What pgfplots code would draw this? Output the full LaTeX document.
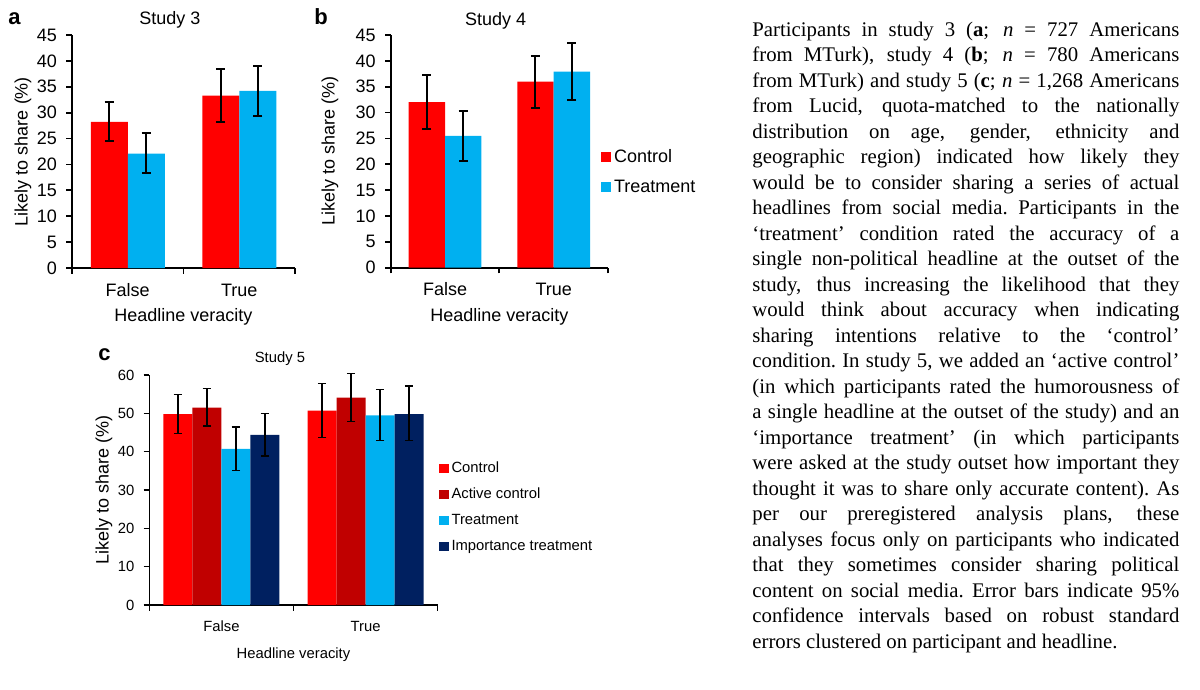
\documentclass[border=0pt]{standalone}
\usepackage{fontspec}
\setmainfont{Liberation Serif}
\newfontfamily\arial{Liberation Sans}
\usepackage{pgfplots}
\pgfplotsset{compat=1.18}
\definecolor{cred}{RGB}{255,0,0}
\definecolor{cdred}{RGB}{192,0,0}
\definecolor{cblue}{RGB}{0,176,240}
\definecolor{cnavy}{RGB}{0,32,96}
\pgfplotsset{
  base/.style={
    scale only axis, clip=false, anchor=south west,
    axis x line*=bottom, axis y line*=left,
    xmin=-0.5, xmax=1.5, ymin=0,
    xtick={-0.5,0.5,1.5}, xticklabels={{},{},{}},
    extra x ticks={0,1}, extra x tick labels={False,True},
    extra x tick style={major tick length=0pt},
    tick align=outside, major tick length=2.8pt,
    tick style={black},
    /pgf/number format/assume math mode=true,
    ybar=0pt,
    every axis plot post/.append style={legend image code/.code={\fill[##1] (0pt,-2.4pt) rectangle (4.8pt,2.4pt);}},
    xticklabel style={anchor=base, yshift=-14pt},
    yticklabel style={anchor=east, inner sep=0pt, xshift=-4.5pt},
    xlabel={Headline veracity},
    ylabel={Likely to share (\%)},
    xlabel style={at={(axis description cs:0.5,0)}, anchor=base, yshift=-26.8pt},
    ylabel style={anchor=center},
    every axis title shift=0pt,
    title style={anchor=base},
    legend cell align=left,
    legend style={draw=none, fill=none, inner sep=0pt, column sep=0pt, anchor=west},
    error bars/y dir=both, error bars/y explicit,
    error bars/error bar style={black},
  },
  big/.style={
    base,
    font=\arial\fontsize{9}{10.8}\selectfont,
    axis line style={line width=0.9pt},
    tick style={line width=0.9pt},
    ymax=45, ytick distance=5,
    error bars/error bar style={line width=1pt},
    error bars/error mark options={rotate=90, mark size=2.25pt, line width=1pt, black},
    legend style={row sep=5pt, nodes={inner ysep=1pt, inner xsep=1.5pt, text height=6.5pt, text depth=1.5pt}},
  },
}
\newcommand\capline[1]{\makebox[213.5pt][s]{#1}\\}
\begin{document}
\begin{tikzpicture}
\path[use as bounding box] (0,0) rectangle (600pt,-345pt);

% Panel a
\begin{axis}[big, at={(36pt,-134pt)}, width=111.5pt, height=116.5pt, bar width=18.5pt,
  title={Study 3}, title style={at={(axis description cs:0.439,1)}, yshift=5.5pt},
  ylabel style={at={(axis description cs:-0.2197,0.5)}}]
\addplot[fill=cred, draw=none] coordinates {(0,28.2) += (0,3.8) -= (0,3.6) (1,33.3) += (0,5.1) -= (0,5.1)};
\addplot[fill=cblue, draw=none] coordinates {(0,22.1) += (0,3.9) -= (0,3.8) (1,34.2) += (0,4.9) -= (0,4.9)};
\end{axis}

% Panel b
\begin{axis}[big, at={(195.35pt,-133.85pt)}, width=108.65pt, height=116.35pt, bar width=18.2pt,
  title={Study 4}, title style={at={(axis description cs:0.483,1)}, yshift=5pt},
  ylabel style={at={(axis description cs:-0.2793,0.5)}},
  legend style={at={(axis description cs:0.9678,0.411)}}]
\addplot[fill=cred, draw=none] coordinates {(0,32.0) += (0,5.3) -= (0,5.2) (1,36.0) += (0,4.9) -= (0,5.1)};
\addplot[fill=cblue, draw=none] coordinates {(0,25.5) += (0,4.8) -= (0,4.8) (1,37.9) += (0,5.6) -= (0,5.5)};
\legend{Control,Treatment}
\end{axis}

% Panel c
\begin{axis}[base, at={(74.65pt,-302.5pt)}, width=144.2pt, height=115pt, bar width=14.5pt,
  font=\arial\fontsize{7.4}{8.9}\selectfont,
  axis line style={line width=0.75pt}, tick style={line width=0.75pt},
  ymax=60, ytick distance=10,
  xticklabel style={yshift=1pt},
  error bars/error bar style={line width=0.65pt},
  error bars/error mark options={rotate=90, mark size=2.1pt, line width=0.65pt, black},
  title={Study 5}, title style={at={(axis description cs:0.453,1)}, yshift=6.2pt},
  ylabel style={at={(axis description cs:-0.1571,0.5)}, font=\arial\fontsize{9}{10.8}\selectfont},
  legend style={at={(axis description cs:1.0035,0.424)}, row sep=4pt, nodes={inner ysep=1pt, inner xsep=1.4pt, text height=5.5pt, text depth=1.5pt}}]
\addplot[fill=cred, draw=none] coordinates {(0,49.8) += (0,5.2) -= (0,5.0) (1,50.7) += (0,7.1) -= (0,7.0)};
\addplot[fill=cdred, draw=none] coordinates {(0,51.5) += (0,4.9) -= (0,4.8) (1,54.1) += (0,6.3) -= (0,6.3)};
\addplot[fill=cblue, draw=none] coordinates {(0,40.7) += (0,5.7) -= (0,5.7) (1,49.5) += (0,6.7) -= (0,6.5)};
\addplot[fill=cnavy, draw=none] coordinates {(0,44.4) += (0,5.6) -= (0,5.5) (1,49.8) += (0,7.3) -= (0,6.9)};
\legend{Control,Active control,Treatment,Importance treatment}
\end{axis}

% panel letters
\node[anchor=base west, inner sep=0pt, font=\arial\bfseries\fontsize{11}{13}\selectfont] at (4pt,-12.5pt) {a};
\node[anchor=base west, inner sep=0pt, font=\arial\bfseries\fontsize{11}{13}\selectfont] at (157pt,-12.5pt) {b};
\node[anchor=base west, inner sep=0pt, font=\arial\bfseries\fontsize{11}{13}\selectfont] at (49pt,-180.3pt) {c};

% caption text
\node[anchor=north west, inner sep=0pt] at (376pt,-10.7pt) {\parbox[t]{213.5pt}{%
\fontsize{10.4}{12.75}\selectfont
\spaceskip=0.25em plus 0.6em minus 0.1em\relax
\xspaceskip=0.25em plus 0.6em minus 0.1em\relax
\parindent=0pt
\capline{Participants in study 3 (\textbf{a}; \textit{n} = 727 Americans}
\capline{from MTurk), study 4 (\textbf{b}; \textit{n} = 780 Americans}
\capline{from MTurk) and study 5 (\textbf{c}; \textit{n} = 1,268 Americans}
\capline{from Lucid, quota-matched to the nationally}
\capline{distribution on age, gender, ethnicity and}
\capline{geographic region) indicated how likely they}
\capline{would be to consider sharing a series of actual}
\capline{headlines from social media. Participants in the}
\capline{‘treatment’ condition rated the accuracy of a}
\capline{single non-political headline at the outset of the}
\capline{study, thus increasing the likelihood that they}
\capline{would think about accuracy when indicating}
\capline{sharing intentions relative to the ‘control’}
\capline{condition. In study 5, we added an ‘active control’}
\capline{(in which participants rated the humorousness of}
\capline{a single headline at the outset of the study) and an}
\capline{‘importance treatment’ (in which participants}
\capline{were asked at the study outset how important they}
\capline{thought it was to share only accurate content). As}
\capline{per our preregistered analysis plans, these}
\capline{analyses focus only on participants who indicated}
\capline{that they sometimes consider sharing political}
\capline{content on social media. Error bars indicate 95\%}
\capline{confidence intervals based on robust standard}
errors clustered on participant and headline.}};
\end{tikzpicture}
\end{document}
